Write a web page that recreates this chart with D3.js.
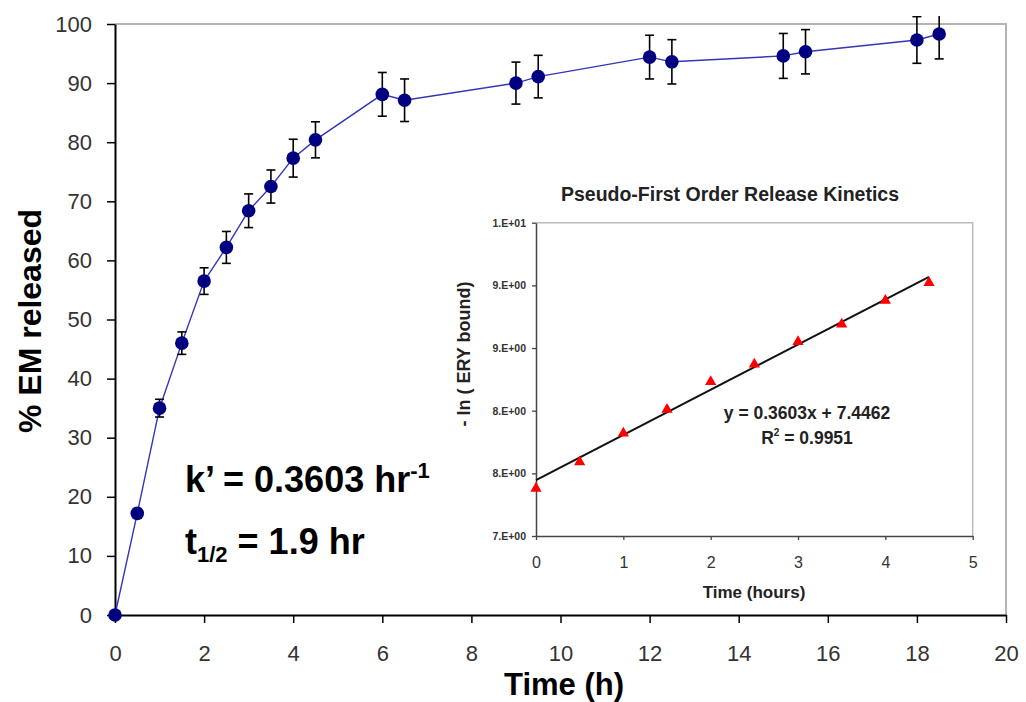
<!DOCTYPE html>
<html>
<head>
<meta charset="utf-8">
<script src="https://cdn.jsdelivr.net/npm/d3@7"></script>
<style>
  body { margin: 0; background: #fff; }
  text { font-family: Arial, "Liberation Sans", sans-serif; }
</style>
</head>
<body>
<svg id="chart"></svg>
<script>
// main release curve
const times = [0, 0.5, 1, 1.5, 2, 2.5, 3, 3.5, 4, 4.5, 6, 6.5, 9, 9.5, 12, 12.5, 15, 15.5, 18, 18.5];
const released = [0, 17.2, 35.0, 46.0, 56.5, 62.2, 68.4, 72.5, 77.3, 80.4, 88.1, 87.1, 90.0, 91.1, 94.4, 93.6, 94.6, 95.3, 97.3, 98.3];
const errors = [0, 0.8, 1.5, 1.9, 2.25, 2.7, 2.85, 2.8, 3.2, 3.05, 3.7, 3.6, 3.55, 3.6, 3.7, 3.75, 3.8, 3.75, 3.95, 4.2];
const xTicks = [0, 2, 4, 6, 8, 10, 12, 14, 16, 18, 20];
const yTicks = [0, 10, 20, 30, 40, 50, 60, 70, 80, 90, 100];

// inset: pseudo-first order kinetics
const kinTimes = [0, 0.5, 1, 1.5, 2, 2.5, 3, 3.5, 4, 4.5];
const kinValues = [7.38, 7.59, 7.82, 8.01, 8.23, 8.37, 8.55, 8.69, 8.88, 9.02];
const fitSlope = 0.3603;
const fitIntercept = 7.4462;
const kinXTicks = [0, 1, 2, 3, 4, 5];
const kinYTicks = [7, 7.5, 8, 8.5, 9, 9.5];
const kinYLabels = ["7.E+00", "8.E+00", "8.E+00", "9.E+00", "9.E+00", "1.E+01"];

const width = 1026, height = 702;
const svg = d3.select("#chart").attr("width", width).attr("height", height);

// ---------- main chart ----------
const m = { left: 115, right: 1006, top: 24, bottom: 615 };
const x = d3.scaleLinear().domain([0, 20]).range([m.left, m.right]);
const y = d3.scaleLinear().domain([0, 100]).range([m.bottom, m.top]);

// gray plot-area border (top + right)
svg.append("path")
    .attr("d", `M${m.left},${m.top}H${m.right}V${m.bottom}`)
    .attr("fill", "none")
    .attr("stroke", "#b4b4b4")
    .attr("stroke-width", 2);

const yAxis = svg.append("g")
    .attr("transform", `translate(${m.left},0)`)
    .call(d3.axisLeft(y).tickValues(yTicks).tickSize(8).tickSizeOuter(0).tickPadding(15));
const xAxis = svg.append("g")
    .attr("transform", `translate(0,${m.bottom})`)
    .call(d3.axisBottom(x).tickValues(xTicks).tickSize(8).tickSizeOuter(0).tickPadding(22));

[xAxis, yAxis].forEach(g => {
    g.select(".domain").attr("stroke", "#000").attr("stroke-width", 2);
    g.selectAll(".tick line").attr("stroke", "#000").attr("stroke-width", 1.5);
    g.selectAll(".tick text")
        .attr("font-size", 22)
        .attr("fill", "#333")
        .attr("font-family", "Arial, 'Liberation Sans', sans-serif");
});

svg.append("text")
    .attr("transform", `translate(41,321) rotate(-90)`)
    .attr("text-anchor", "middle")
    .attr("font-size", 32)
    .attr("font-weight", "bold")
    .text("% EM released");

svg.append("text")
    .attr("x", 564)
    .attr("y", 695)
    .attr("text-anchor", "middle")
    .attr("font-size", 31)
    .attr("font-weight", "bold")
    .text("Time (h)");

const pts = times.map((t, i) => ({ t, v: released[i], e: errors[i] }));

svg.append("path")
    .datum(pts)
    .attr("fill", "none")
    .attr("stroke", "#3535b8")
    .attr("stroke-width", 1.4)
    .attr("d", d3.line().x(d => x(d.t)).y(d => y(d.v)));

// error bars (clipped a little above the plot, like the original)
svg.append("clipPath").attr("id", "errClip")
    .append("rect").attr("x", 0).attr("y", 16).attr("width", width).attr("height", height);
const bars = svg.append("g").attr("clip-path", "url(#errClip)")
    .selectAll("g").data(pts.filter(d => d.e > 0)).join("g")
    .attr("stroke", "#000").attr("stroke-width", 1.6);
bars.append("line")
    .attr("x1", d => x(d.t)).attr("x2", d => x(d.t))
    .attr("y1", d => y(d.v - d.e)).attr("y2", d => y(d.v + d.e));
bars.append("line")
    .attr("x1", d => x(d.t) - 4.5).attr("x2", d => x(d.t) + 4.5)
    .attr("y1", d => y(d.v - d.e)).attr("y2", d => y(d.v - d.e));
bars.append("line")
    .attr("x1", d => x(d.t) - 4.5).attr("x2", d => x(d.t) + 4.5)
    .attr("y1", d => y(d.v + d.e)).attr("y2", d => y(d.v + d.e));

svg.append("g").selectAll("circle").data(pts).join("circle")
    .attr("cx", d => x(d.t))
    .attr("cy", d => y(d.v))
    .attr("r", 6.8)
    .attr("fill", "#000080");

// rate annotations
const k = svg.append("text")
    .attr("x", 185).attr("y", 492)
    .attr("font-size", 36).attr("font-weight", "bold");
k.append("tspan").text("k\u2019 = 0.3603 hr");
k.append("tspan").attr("font-size", 22).attr("dy", -14).text("-1");

const th = svg.append("text")
    .attr("x", 185).attr("y", 554)
    .attr("font-size", 36).attr("font-weight", "bold");
th.append("tspan").text("t");
th.append("tspan").attr("font-size", 22).attr("dy", 8).text("1/2");
th.append("tspan").attr("dy", -8).text(" = 1.9 hr");

// ---------- inset chart ----------
const n = { left: 536, right: 972.7, top: 222.7, bottom: 536 };
const ix = d3.scaleLinear().domain([0, 5]).range([n.left, n.right]);
const iy = d3.scaleLinear().domain([7, 9.5]).range([n.bottom, n.top]);

svg.append("path")
    .attr("d", `M${n.left},${n.top}H${n.right}V${n.bottom}`)
    .attr("fill", "none")
    .attr("stroke", "#bbb")
    .attr("stroke-width", 1.5);

const iyAxis = svg.append("g")
    .attr("transform", `translate(${n.left},0)`)
    .call(d3.axisLeft(iy).tickValues(kinYTicks).tickSize(4).tickSizeOuter(0).tickPadding(6)
        .tickFormat((d, i) => kinYLabels[i]));
const ixAxis = svg.append("g")
    .attr("transform", `translate(0,${n.bottom})`)
    .call(d3.axisBottom(ix).tickValues(kinXTicks).tickSize(4).tickSizeOuter(0).tickPadding(17)
        .tickFormat(d3.format("d")));

[iyAxis, ixAxis].forEach(g => {
    g.select(".domain").attr("stroke", "#444").attr("stroke-width", 1.5);
    g.selectAll(".tick line").attr("stroke", "#444").attr("stroke-width", 1.3);
    g.selectAll(".tick text").attr("fill", "#333")
        .attr("font-family", "Arial, 'Liberation Sans', sans-serif");
});
iyAxis.selectAll(".tick text").attr("font-size", 10.5).attr("font-weight", "bold");
ixAxis.selectAll(".tick text").attr("font-size", 16);

svg.append("text")
    .attr("x", 730).attr("y", 201)
    .attr("text-anchor", "middle")
    .attr("font-size", 19.5).attr("font-weight", "bold").attr("fill", "#222")
    .text("Pseudo-First Order Release Kinetics");

svg.append("text")
    .attr("x", 754).attr("y", 598)
    .attr("text-anchor", "middle")
    .attr("font-size", 17).attr("font-weight", "bold").attr("fill", "#222")
    .text("Time (hours)");

svg.append("text")
    .attr("transform", "translate(470,354) rotate(-90)")
    .attr("text-anchor", "middle")
    .attr("font-size", 18).attr("font-weight", "bold").attr("fill", "#222")
    .text("- ln ( ERY bound)");

svg.append("line")
    .attr("x1", ix(0)).attr("y1", iy(fitIntercept))
    .attr("x2", ix(4.5)).attr("y2", iy(fitIntercept + fitSlope * 4.5))
    .attr("stroke", "#111").attr("stroke-width", 2);

svg.append("g").selectAll("path").data(kinTimes.map((t, i) => ({ t, v: kinValues[i] }))).join("path")
    .attr("transform", d => `translate(${ix(d.t)},${iy(d.v)})`)
    .attr("d", d3.symbol(d3.symbolTriangle, 55))
    .attr("fill", "#ff0000");

svg.append("text")
    .attr("x", 807).attr("y", 419)
    .attr("text-anchor", "middle")
    .attr("font-size", 17.5).attr("font-weight", "bold").attr("fill", "#222")
    .text("y = 0.3603x + 7.4462");

const r2 = svg.append("text")
    .attr("x", 807).attr("y", 444)
    .attr("text-anchor", "middle")
    .attr("font-size", 17.5).attr("font-weight", "bold").attr("fill", "#222");
r2.append("tspan").text("R");
r2.append("tspan").attr("font-size", 10).attr("dy", -8).text("2");
r2.append("tspan").attr("dy", 8).text(" = 0.9951");
</script>
</body>
</html>
